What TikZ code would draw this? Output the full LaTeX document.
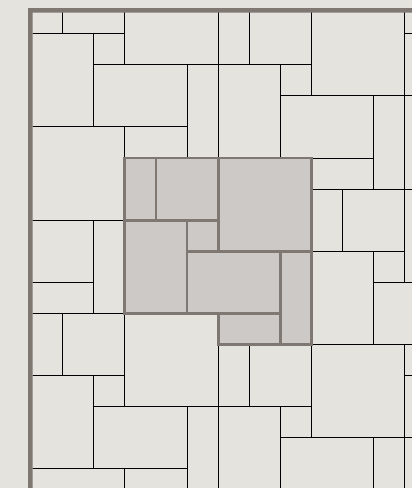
\documentclass[tikz,border=0pt]{standalone}
\usepackage{tikz}
\definecolor{floorbg}{RGB}{229,227,221}
\definecolor{slabfill}{RGB}{205,201,198}
\definecolor{slabedge}{RGB}{126,119,114}

\begin{document}
\begin{tikzpicture}[
  x=0.5cm,
  y=-0.5cm,
  joint/.style={draw=black, line width=0.45pt},
  unitjoint/.style={draw=slabedge, line width=1.3pt},
  frame/.style={fill=slabedge}
]

% floor
\fill[floorbg] (-1.017, -0.084) rectangle (12.239, 15.618);
\useasboundingbox (-1.017, -0.084) rectangle (12.239, 15.618);

% laying pattern, one unit repeated along (3,6) and (6,1)
\begin{scope}
  \clip (0.034, 0.324) rectangle (12.4, 15.8);
  \draw[joint]
    \foreach \a in {-3,...,3} {
      \foreach \b [evaluate=\b as \px using {3+3*\a+6*\b},
                   evaluate=\b as \py using {5+6*\a+\b}] in {-3,...,3} {
        (\px,\py) rectangle +(1,2)
        (\px+1,\py) rectangle +(2,2)
        (\px+3,\py) rectangle +(3,3)
        (\px,\py+2) rectangle +(2,3)
        (\px+2,\py+2) rectangle +(1,1)
        (\px+2,\py+3) rectangle +(3,2)
        (\px+5,\py+3) rectangle +(1,3)
        (\px+3,\py+5) rectangle +(2,1)
      }
    };
\end{scope}

% highlighted unit
\fill[slabfill] (3,5) -- (9,5) -- (9,11) -- (6,11) -- (6,10) -- (3,10) -- cycle;
\draw[unitjoint]
  (3,5) rectangle (4,7)
  (4,5) rectangle (6,7)
  (6,5) rectangle (9,8)
  (3,7) rectangle (5,10)
  (5,7) rectangle (6,8)
  (5,8) rectangle (8,10)
  (8,8) rectangle (9,11)
  (6,10) rectangle (8,11);

% edge of the floor
\fill[frame] (-0.116, 15.8) -- (-0.116, 0.174) -- (12.4, 0.174)
  -- (12.4, 0.324) -- (0.034, 0.324) -- (0.034, 15.8) -- cycle;

\end{tikzpicture}
\end{document}
